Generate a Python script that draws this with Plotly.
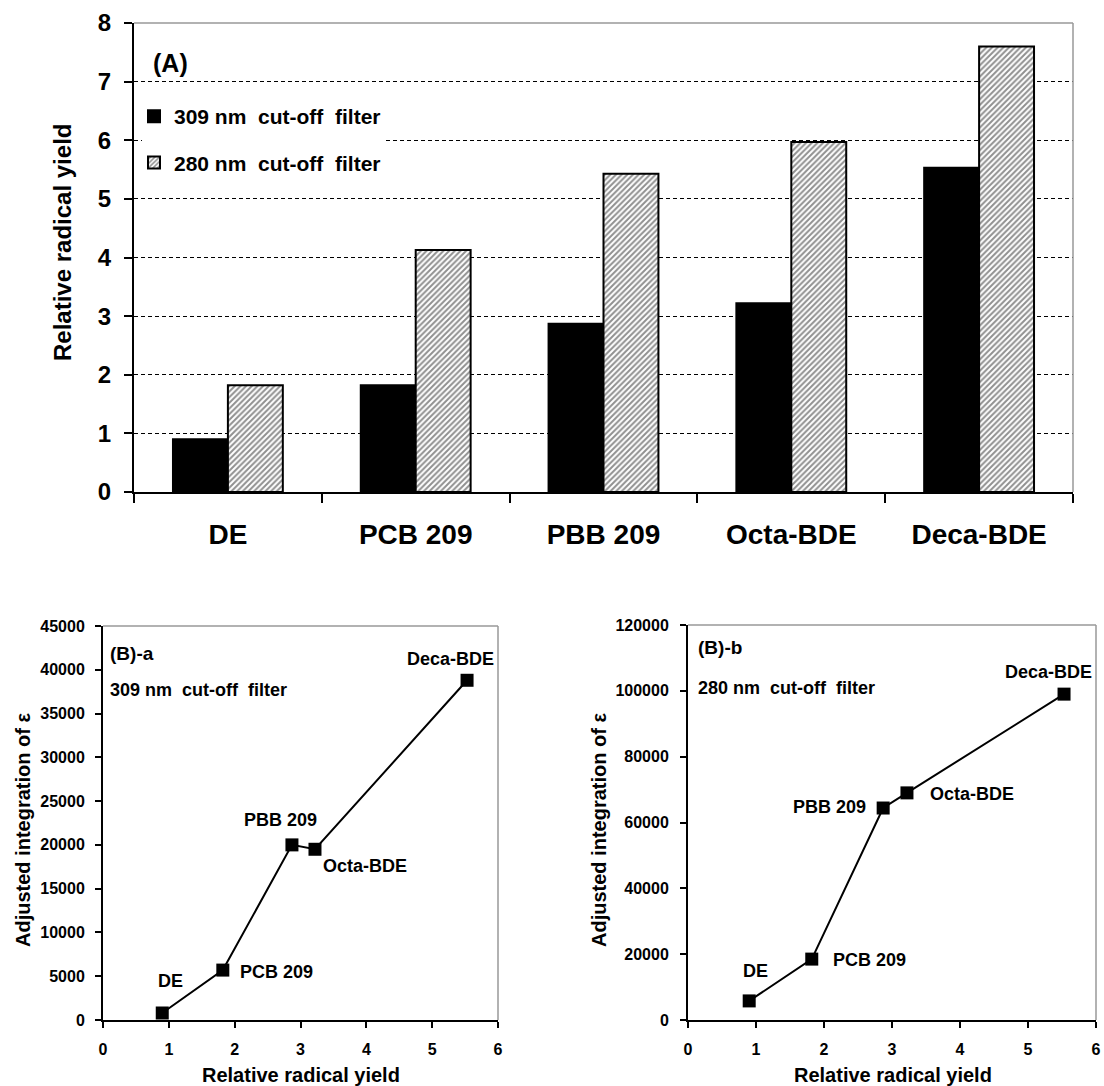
import plotly.graph_objects as go

# ---------------- data ----------------
categories = ["DE", "PCB 209", "PBB 209", "Octa-BDE", "Deca-BDE"]
yield_309 = [0.90, 1.82, 2.87, 3.22, 5.53]
yield_280 = [1.82, 4.13, 5.43, 5.97, 7.60]
eps_309 = [800, 5700, 20000, 19500, 38800]
eps_280 = [5800, 18500, 64400, 69000, 99000]
series_names = ["309 nm\u00a0 cut-off\u00a0 filter", "280 nm\u00a0 cut-off\u00a0 filter"]

W, H = 1104, 1086
FONT = "Liberation Sans, Arial, sans-serif"


def px(x):
    return x / W


def py(y):
    return 1 - y / H


fig = go.Figure()

# ---------------- (A) bar chart ----------------
fig.add_trace(go.Bar(
    x=categories, y=yield_309, name=series_names[0], legendgroup="a",
    marker=dict(color="black", line=dict(color="black", width=2)),
    xaxis="x", yaxis="y",
))
fig.add_trace(go.Bar(
    x=categories, y=yield_280, name=series_names[1], legendgroup="b",
    marker=dict(color="white", line=dict(color="black", width=2),
                pattern=dict(shape="/", fgcolor="#222222", bgcolor="white",
                             size=4, solidity=0.5)),
    xaxis="x", yaxis="y",
))

# ---------------- (B) scatter plots ----------------
fig.add_trace(go.Scatter(
    x=yield_309, y=eps_309, mode="lines+markers", showlegend=False,
    line=dict(color="black", width=2),
    marker=dict(symbol="square", size=13, color="black"),
    xaxis="x2", yaxis="y2",
))
fig.add_trace(go.Scatter(
    x=yield_309, y=eps_280, mode="lines+markers", showlegend=False,
    line=dict(color="black", width=2),
    marker=dict(symbol="square", size=13, color="black"),
    xaxis="x3", yaxis="y3",
))

bold = dict(family=FONT, color="black", weight="bold")

common_ax = dict(automargin=False, ticks="outside", tickwidth=1.5, tickcolor="black",
                 showline=True, linecolor="black", linewidth=2, zeroline=False)

fig.update_layout(
    width=W, height=H, autosize=False,
    margin=dict(l=0, r=0, t=0, b=0, autoexpand=False),
    paper_bgcolor="white", plot_bgcolor="white",
    font=dict(family=FONT, color="black"),
    barmode="group", bargap=0.415, bargroupgap=0,
    showlegend=True,
    legend=dict(x=px(142), y=py(96), xanchor="left", yanchor="top",
                bgcolor="white", borderwidth=0,
                font=dict(size=21, **bold), tracegroupgap=16,
                indentation=-8),
    xaxis=dict(domain=[px(134), px(1073)], anchor="y",
               type="category", tickson="boundaries", ticklen=9,
               showgrid=False, tickfont=dict(size=28, **bold),
               ticklabelstandoff=16, **common_ax),
    yaxis=dict(domain=[py(492), py(23)], anchor="x", range=[0, 8], dtick=1,
               ticklen=8,
               showgrid=True, gridcolor="black", gridwidth=1, griddash="4px,3px",
               tickfont=dict(size=24, **bold),
               ticklabelstandoff=8, **common_ax),
    xaxis2=dict(domain=[px(103), px(498)], anchor="y2", range=[0, 6], dtick=1,
                ticklen=6, showgrid=False,
                tickfont=dict(size=16, **bold), ticklabelstandoff=8, **common_ax),
    yaxis2=dict(domain=[py(1020), py(626)], anchor="x2", range=[0, 45000],
                dtick=5000, ticklen=6, showgrid=False, tickformat="d",
                tickfont=dict(size=16, **bold), ticklabelstandoff=7, **common_ax),
    xaxis3=dict(domain=[px(688), px(1096)], anchor="y3", range=[0, 6], dtick=1,
                ticklen=6, showgrid=False,
                tickfont=dict(size=16, **bold), ticklabelstandoff=8, **common_ax),
    yaxis3=dict(domain=[py(1020), py(625)], anchor="x3", range=[0, 120000],
                dtick=20000, ticklen=6, showgrid=False, tickformat="d",
                tickfont=dict(size=16, **bold), ticklabelstandoff=8, **common_ax),
)

# gray top/right frame lines
shapes = []
for xa, ya in [("x", "y"), ("x2", "y2"), ("x3", "y3")]:
    shapes.append(dict(type="line", xref=f"{xa} domain", yref=f"{ya} domain",
                       x0=0, x1=1, y0=1, y1=1, line=dict(color="#999999", width=1.5),
                       layer="above"))
    shapes.append(dict(type="line", xref=f"{xa} domain", yref=f"{ya} domain",
                       x0=1, x1=1, y0=0, y1=1, line=dict(color="#999999", width=1.5),
                       layer="above"))
fig.update_layout(shapes=shapes)

ann = []
center = dict(xanchor="center", yanchor="middle", showarrow=False,
              xref="paper", yref="paper")
# axis titles
ann.append(dict(text="Relative radical yield", x=px(62), y=py(243), textangle=-90,
                font=dict(size=24, **bold), **center))
ann.append(dict(text="Adjusted integration of ε", x=px(23), y=py(830), textangle=-90,
                font=dict(size=20, **bold), **center))
ann.append(dict(text="Adjusted integration of ε", x=px(599), y=py(830), textangle=-90,
                font=dict(size=20, **bold), **center))
ann.append(dict(text="Relative radical yield", x=px(301), y=py(1075),
                font=dict(size=20, **bold), **center))
ann.append(dict(text="Relative radical yield", x=px(893), y=py(1075),
                font=dict(size=20, **bold), **center))

# panel labels
ann.append(dict(text="(A)", x=0, y=1, xref="x domain", yref="y domain",
                xanchor="left", yanchor="middle", xshift=17, yshift=-40,
                showarrow=False, font=dict(size=25, **bold)))
ann.append(dict(text="(B)-a", x=0, y=1, xref="x2 domain", yref="y2 domain",
                xanchor="left", yanchor="middle", xshift=5, yshift=-27,
                showarrow=False, font=dict(size=19, **bold)))
ann.append(dict(text=series_names[0], x=0, y=1, xref="x2 domain", yref="y2 domain",
                xanchor="left", yanchor="middle", xshift=5, yshift=-64,
                showarrow=False, font=dict(size=18, **bold)))
ann.append(dict(text="(B)-b", x=0, y=1, xref="x3 domain", yref="y3 domain",
                xanchor="left", yanchor="middle", xshift=8, yshift=-22,
                showarrow=False, font=dict(size=19, **bold)))
ann.append(dict(text=series_names[1], x=0, y=1, xref="x3 domain", yref="y3 domain",
                xanchor="left", yanchor="middle", xshift=8, yshift=-63,
                showarrow=False, font=dict(size=18, **bold)))

# point labels (offsets in px from each point)
offs_a = [(8, 32), (54, -2), (-11, 25), (50, -17), (-17, 21)]
offs_b = [(6, 30), (58, -1), (-54, 1), (65, -1), (-16, 22)]
for i, c in enumerate(categories):
    ann.append(dict(text=c, x=yield_309[i], y=eps_309[i], xref="x2", yref="y2",
                    xshift=offs_a[i][0], yshift=offs_a[i][1], showarrow=False,
                    font=dict(size=18, **bold)))
    ann.append(dict(text=c, x=yield_309[i], y=eps_280[i], xref="x3", yref="y3",
                    xshift=offs_b[i][0], yshift=offs_b[i][1], showarrow=False,
                    font=dict(size=18, **bold)))
fig.update_layout(annotations=ann)

fig.write_html("out.html")
